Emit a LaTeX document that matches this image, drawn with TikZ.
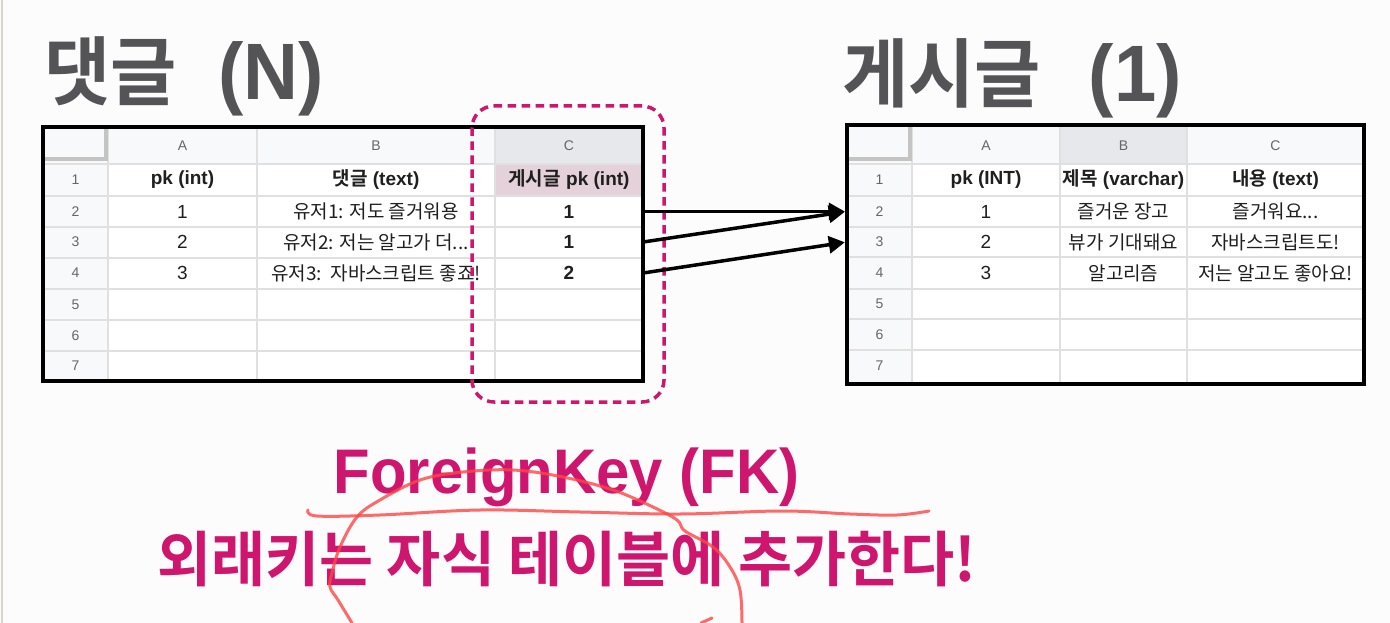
\documentclass[tikz,border=0pt]{standalone}
\usepackage{fontspec}
\usepackage{graphicx}
\usetikzlibrary{arrows.meta}
\setmainfont{Liberation Sans}
\newfontfamily\kr{Noto Sans CJK KR}[BoldFont={Noto Sans CJK KR Bold}]
\newfontfamily\krtitle{Noto Sans CJK KR Bold}[FakeStretch=0.96]
\newfontfamily\krbig{Noto Sans CJK KR Bold}[FakeStretch=0.98]
\newfontfamily\lattitle{Liberation Sans}[FakeStretch=0.95]
\definecolor{bgc}{HTML}{FCFCFC}
\definecolor{gridc}{HTML}{E0E0E0}
\definecolor{hdrc}{HTML}{F8F9FA}
\definecolor{selhdr}{HTML}{E6E8EB}
\definecolor{fkcell}{HTML}{E5D1DA}
\definecolor{inkc}{HTML}{1F1F1F}
\definecolor{rownum}{HTML}{666666}
\definecolor{titlec}{HTML}{545356}
\definecolor{fkpink}{HTML}{CF166F}
\definecolor{penc}{HTML}{FF4545}
\definecolor{edgec}{HTML}{DAD3CB}
\definecolor{barc}{HTML}{C4C4C4}
\newcommand\tabfont{\fontsize{19}{22}\selectfont}
\newcommand\numfont{\fontsize{14}{16}\selectfont}
\tikzset{
  cell/.style={inner sep=0pt, font=\tabfont, text=inkc},
  cellb/.style={cell, font=\tabfont\bfseries},
  num/.style={inner sep=0pt, font=\numfont, text=rownum},
  grid/.style={draw=gridc, line width=1.2pt},
  border/.style={draw=black, line width=4pt},
  cornerbar/.style={draw=barc, line width=4pt},
  titletext/.style={inner sep=0pt, text=titlec, font=\fontsize{75}{80}\selectfont},
  fkbox/.style={draw=fkpink, line width=3.5pt, dash pattern=on 8.5pt off 5.5pt, rounded corners=22pt, inner sep=0pt},
  conn/.style={draw=black, line width=3.5pt, -{Triangle[length=16pt,width=17pt]}, shorten >=2pt},
  redpen/.style={draw=penc, opacity=0.8, line width=3pt, line cap=round, line join=round}
}
\begin{document}
\begin{tikzpicture}[x=1pt,y=-1pt]
\useasboundingbox (0,0) rectangle (1390,623);
\fill[bgc] (0,0) rectangle (1390,623);
\draw[edgec, line width=2pt] (2,0) -- (2,623);

% titles
\node[titletext, anchor=base west] (t1) at (44,100) {{\krtitle 댓글}\hspace{42pt}{\lattitle\bfseries\fontsize{80}{84}\selectfont (N)}};
\node[titletext, anchor=base west] (t2) at (842,102) {{\krtitle 게시글}\hspace{48pt}{\lattitle\bfseries\fontsize{80}{84}\selectfont (1)}};

% ---------- left table ----------
\fill[white] (43,127) rectangle (643,381);
\fill[hdrc] (43,127) rectangle (643,164);
\fill[hdrc] (43,164) rectangle (108,381);
\fill[selhdr] (495,127) rectangle (643,164);
\fill[fkcell] (495,164) rectangle (643,196);
\foreach \x in {108,257,495} \draw[grid] (\x,127) -- (\x,381);
\foreach \y in {164,196,227,258,289,320,351} \draw[grid] (43,\y) -- (643,\y);
\draw[cornerbar] (105.5,127) -- (105.5,161);
\draw[cornerbar] (43,159) -- (107.5,159);
\draw[border] (43,127) rectangle (643,381);

\node[num] (LhA) at (182.5,145.5) {A};
\node[num] (LhB) at (376,145.5) {B};
\node[num] (LhC) at (569,145.5) {C};
\foreach \i/\y in {1/180,2/211.5,3/242,4/273,5/304.5,6/335.5,7/366}
  \node[num] (Ln\i) at (75.5,\y) {\i};

\node[cellb] (La1) at (182.5,180) {pk (int)};
\node[cellb] (Lb1) at (376,180) {{\kr\bfseries 댓글} (text)};
\node[cellb] (Lc1) at (569,180) {{\kr\bfseries 게시글} pk (int)};
\node[cell] (La2) at (182.5,211.5) {1};
\node[cell] (Lb2) at (376,211.5) {\kr 유저1: 저도 즐거워용};
\node[cellb, minimum width=148pt, minimum height=31pt] (Lc2) at (569,211.5) {1};
\node[cell] (La3) at (182.5,242) {2};
\node[cell] (Lb3) at (376,242) {\kr 유저2: 저는 알고가 더...};
\node[cellb, minimum width=148pt, minimum height=31pt] (Lc3) at (569,242) {1};
\node[cell] (La4) at (182.5,273) {3};
\node[cell] (Lb4) at (376,273) {\kr 유저3:\ \ 자바스크립트 좋죠!};
\node[cellb, minimum width=148pt, minimum height=31pt] (Lc4) at (569,273) {2};

% ---------- right table ----------
\fill[white] (847,127) rectangle (1364,382);
\fill[hdrc] (847,127) rectangle (1364,164);
\fill[hdrc] (847,164) rectangle (912,382);
\fill[selhdr] (1060,127) rectangle (1187,164);
\foreach \x in {912,1060,1187} \draw[grid] (\x,127) -- (\x,382);
\foreach \y in {164,196,227,257,289,319,350} \draw[grid] (847,\y) -- (1364,\y);
\draw[cornerbar] (909.5,127) -- (909.5,161);
\draw[cornerbar] (847,159.5) -- (911.5,159.5);
\draw[border] (847,125) rectangle (1364,384);

\node[num] (RhA) at (986,145.5) {A};
\node[num] (RhB) at (1123.5,145.5) {B};
\node[num] (RhC) at (1275.5,145.5) {C};
\foreach \i/\y in {1/180,4/273,5/304,6/334.5,7/366}
  \node[num] (Rn\i) at (879.5,\y) {\i};
\node[num, minimum width=65pt, minimum height=31pt] (Rn2) at (879.5,211.5) {2};
\node[num, minimum width=65pt, minimum height=30pt] (Rn3) at (879.5,242) {3};

\node[cellb] (Ra1) at (986,180) {pk (INT)};
\node[cellb] (Rb1) at (1123.5,180) {{\kr\bfseries 제목} (varchar)};
\node[cellb] (Rc1) at (1275.5,180) {{\kr\bfseries 내용} (text)};
\node[cell] (Ra2) at (986,211.5) {1};
\node[cell] (Rb2) at (1123.5,211.5) {\kr 즐거운 장고};
\node[cell] (Rc2) at (1275.5,211.5) {\kr 즐거워요...};
\node[cell] (Ra3) at (986,242) {2};
\node[cell] (Rb3) at (1123.5,242) {\kr 뷰가 기대돼요};
\node[cell] (Rc3) at (1275.5,242) {\kr 자바스크립트도!};
\node[cell] (Ra4) at (986,273) {3};
\node[cell] (Rb4) at (1123.5,273) {\kr 알고리즘};
\node[cell] (Rc4) at (1275.5,273) {\kr 저는 알고도 좋아요!};

% FK column highlight
\node[fkbox, minimum width=192pt, minimum height=296pt] (fkcol) at (568,254) {};

% connectors
\draw[conn] (Lc2.east) -- (Rn2.west);
\draw[conn] (Lc3.east) -- (Rn2.west);
\draw[conn] (Lc4.east) -- (Rn3.west);

% bottom texts
\node[anchor=base west, inner sep=0pt, text=fkpink, font=\lattitle\bfseries\fontsize{63}{70}\selectfont] (fk) at (333.5,493) {ForeignKey (FK)};
\node[anchor=base west, inner sep=0pt, text=fkpink, font=\krbig\fontsize{60}{66}\selectfont] (rule) at (157,581) {외래키는 자식 테이블에 추가한다!};

% hand-drawn annotation
\draw[redpen] plot[smooth, tension=0.6] coordinates {(308,510) (317,516) (380,515) (480,510) (580,512) (680,514) (782,511) (850,514) (897,515) (929,511)};
\draw[redpen] plot[smooth, tension=0.6] coordinates {(352,623) (338,600) (330,587) (332,573) (340,547) (357,517) (380,500) (420,480) (463,472) (513,470) (563,477) (613,490) (653,507) (677,520) (685,531) (713,547) (730,567) (740,590) (742,623)};
\draw[redpen] (701,623) -- (712,618);
\end{tikzpicture}
\end{document}
